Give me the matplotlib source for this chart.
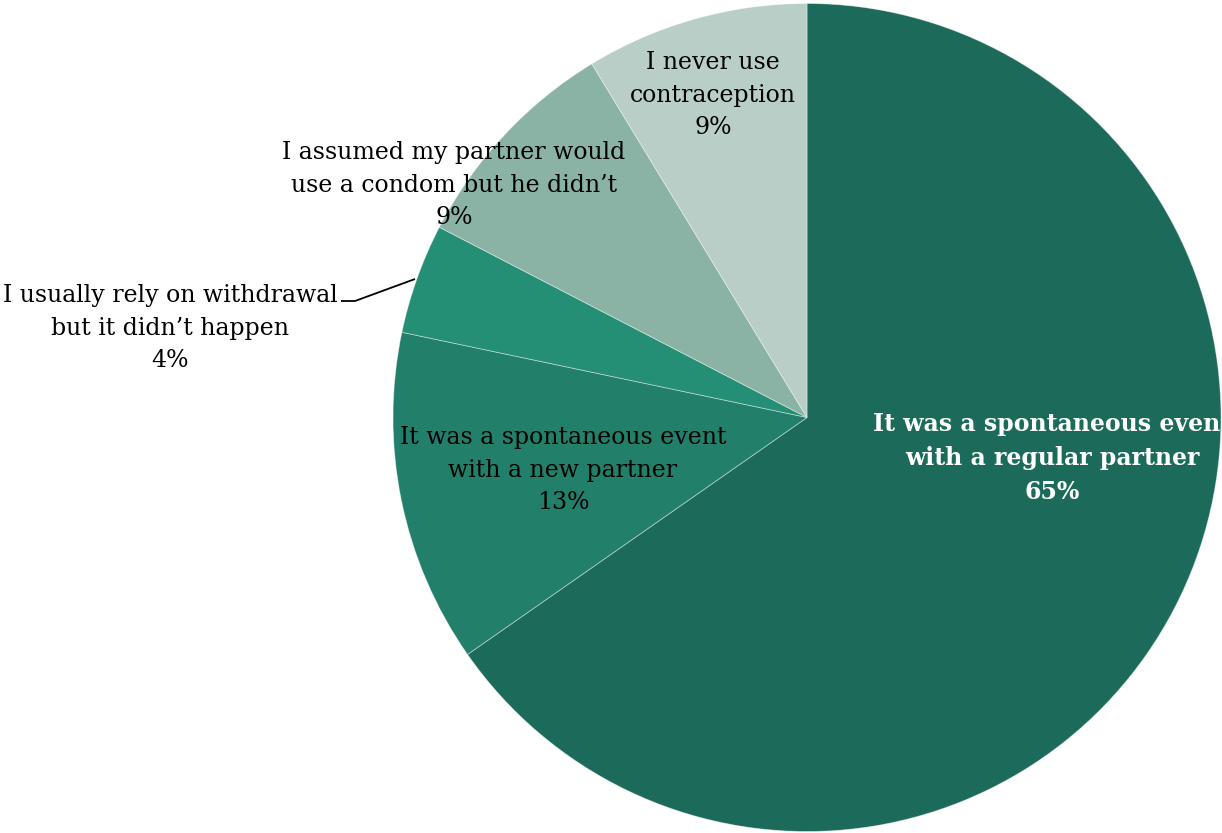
import matplotlib
matplotlib.use("Agg")
import matplotlib.pyplot as plt

categories = [
    "It was a spontaneous event\nwith a regular partner",
    "It was a spontaneous event\nwith a new partner",
    "I usually rely on withdrawal\nbut it didn\u2019t happen",
    "I assumed my partner would\nuse a condom but he didn\u2019t",
    "I never use\ncontraception",
]
values = [65.3, 13.0, 4.3, 8.7, 8.7]
colors = ["#1C6B5A", "#217F6A", "#258F76", "#8BB3A5", "#B8CEC7"]

W, H = 1222, 833
fig = plt.figure(figsize=(W / 100, H / 100), dpi=100)
ax = fig.add_axes([0, 0, 1, 1])

cx, cy, r = 807, 415.5, 414
ax.pie(values, colors=colors, startangle=90, counterclock=False,
       center=(cx, cy), radius=r, frame=True,
       wedgeprops=dict(linewidth=0.6, edgecolor=(1, 1, 1, 0.45)))
ax.set_xlim(0, W)
ax.set_ylim(0, H)
ax.set_aspect("equal")
ax.axis("off")

fam = ["DejaVu Serif"]
fs = 17
label_pos = [(1052, 375), (563, 363), (170, 505), (454, 648), (713, 738)]
for i, (lab, v) in enumerate(zip(categories, values)):
    x, y = label_pos[i]
    bold = i == 0
    ax.text(x, y, f"{lab}\n{round(v)}%", ha="center", va="center",
            fontsize=fs, family=fam, color="white" if bold else "black",
            fontweight="bold" if bold else "normal", linespacing=1.55,
            clip_on=False)

# leader line for the withdrawal label
ax.plot([341, 355, 415], [H - 301, H - 301, H - 279], color="black", lw=1.3,
        solid_capstyle="butt")

fig.savefig("out.png", dpi=100)
